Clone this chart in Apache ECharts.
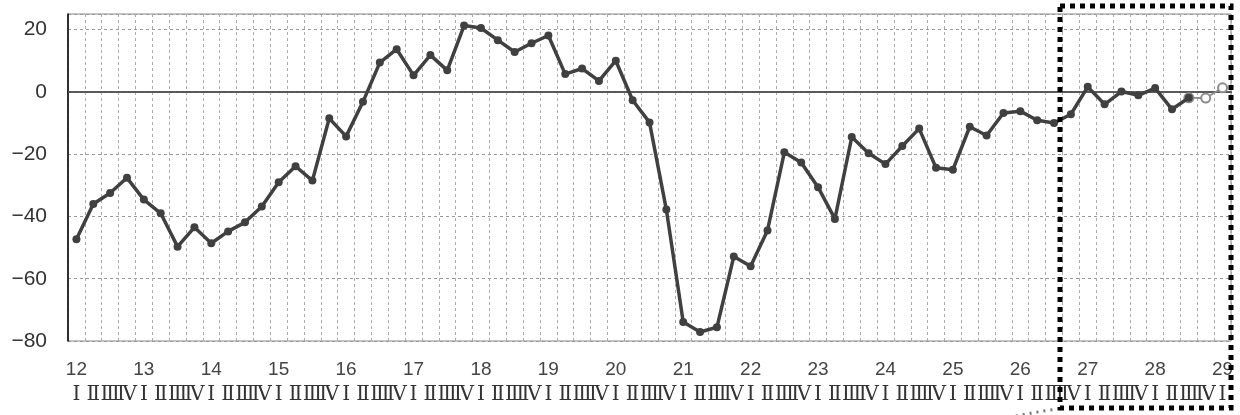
<!DOCTYPE html>
<html>
<head>
<meta charset="utf-8">
<script src="https://cdn.jsdelivr.net/npm/echarts@6/dist/echarts.min.js"></script>
<style>
html,body{margin:0;padding:0;background:#fff;}
#chart{width:1240px;height:415px;}
</style>
</head>
<body>
<div id="chart"></div>
<script>
// ---- data ----
const years = ['12','13','14','15','16','17','18','19','20','21','22','23','24','25','26','27','28','29'];
const quarters = ['Ⅰ','Ⅱ','Ⅲ','Ⅳ'];
const actual = [
  -47.3, -36.0, -32.5, -27.6,
  -34.6, -39.0, -49.7, -43.5,
  -48.6, -44.8, -41.9, -36.8,
  -29.0, -23.9, -28.5, -8.5,
  -14.3, -3.2, 9.4, 13.7,
  5.3, 11.8, 6.9, 21.3,
  20.5, 16.6, 12.8, 15.6,
  18.1, 5.7, 7.5, 3.5,
  10.0, -2.7, -9.8, -37.8,
  -73.9, -77.1, -75.6, -52.9,
  -56.0, -44.5, -19.4, -22.7,
  -30.6, -40.8, -14.5, -19.7,
  -23.2, -17.4, -11.8, -24.4,
  -25.0, -11.2, -14.0, -6.8,
  -6.2, -9.1, -10.0, -7.2,
  1.6, -4.0, 0.1, -1.1,
  1.2, -5.6, -1.9
];
const forecast = [-2.0, 1.3];
const yTicks = [-80, -60, -40, -20, 0, 20];

// ---- build categories ----
const categories = [];
for (let i = 0; i < years.length; i++) {
  for (let q = 0; q < 4; q++) {
    if (i === years.length - 1 && q > 0) break;
    categories.push({ year: years[i], q: q });
  }
}
const catNames = categories.map((c, i) => 'c' + i);
const forecastData = catNames.map(() => null);
forecastData[actual.length - 1] = actual[actual.length - 1];
forecast.forEach((v, k) => { forecastData[actual.length + k] = v; });

const chart = echarts.init(document.getElementById('chart'), null, { renderer: 'canvas' });
chart.setOption({
  animation: false,
  backgroundColor: '#fff',
  grid: { left: 68, right: 9, top: 14, bottom: 74, show: true, borderColor: '#888', borderWidth: 1, containLabel: false },
  xAxis: {
    type: 'category',
    data: catNames,
    boundaryGap: true,
    axisLine: { show: true, lineStyle: { color: '#000', width: 1.5 } },
    axisTick: { show: false },
    splitLine: { show: true, interval: 0, lineStyle: { color: '#aaa', type: [3, 3], width: 1 } },
    axisLabel: {
      interval: 0,
      margin: 16,
      hideOverlap: false,
      formatter: function (v, idx) {
        const c = categories[idx];
        const top = c.q === 0 ? '{y|' + c.year + '}' : '{y| }';
        return top + '\n{r|' + quarters[c.q] + '}';
      },
      rich: {
        y: { fontFamily: 'Liberation Sans, Arial, sans-serif', fontSize: 19, lineHeight: 25, color: '#444' },
        r: { fontFamily: 'DejaVu Serif', fontSize: 20, lineHeight: 26, color: '#333' }
      }
    }
  },
  yAxis: {
    type: 'value',
    min: yTicks[0],
    max: 25,
    interval: 20,
    axisLine: { show: true, lineStyle: { color: '#000', width: 1.5 } },
    axisTick: { show: false },
    splitLine: { show: true, lineStyle: { color: '#999', type: [3, 3], width: 1 } },
    axisLabel: {
      margin: 21,
      fontFamily: 'Liberation Sans, Arial, sans-serif',
      fontSize: 21,
      color: '#333',
      formatter: function (v) {
        if (yTicks.indexOf(v) < 0) return '';
        return String(v).replace('-', '\u2212');
      }
    }
  },
  series: [
    {
      type: 'line',
      data: forecastData,
      symbol: 'emptyCircle',
      symbolSize: 9,
      showAllSymbol: true,
      connectNulls: false,
      lineStyle: { color: '#8c8c8c', width: 1.8 },
      itemStyle: { color: '#8c8c8c', borderColor: '#8c8c8c', borderWidth: 1.5 },
      z: 3
    },
    {
      type: 'line',
      data: actual,
      symbol: 'circle',
      symbolSize: 8,
      showAllSymbol: true,
      lineStyle: { color: '#404040', width: 3.5 },
      itemStyle: { color: '#404040' },
      z: 4,
      markLine: {
        silent: true,
        symbol: 'none',
        label: { show: false },
        lineStyle: { color: '#666', width: 1.5, type: 'solid' },
        data: [{ yAxis: 0 }],
        z: 1
      }
    }
  ],
  graphic: [
    {
      type: 'rect',
      shape: { x: 1060, y: 6, width: 171, height: 402 },
      style: { fill: 'none', stroke: '#000', lineWidth: 5, lineDash: [5, 5] },
      z: 100
    },
    {
      type: 'bezierCurve',
      shape: { x1: 1016, y1: 416, x2: 1057, y2: 409, cpx1: 1036, cpy1: 412 },
      style: { stroke: '#777', lineWidth: 3, lineDash: [2, 5], fill: 'none' },
      z: 100
    }
  ]
});
</script>
</body>
</html>
